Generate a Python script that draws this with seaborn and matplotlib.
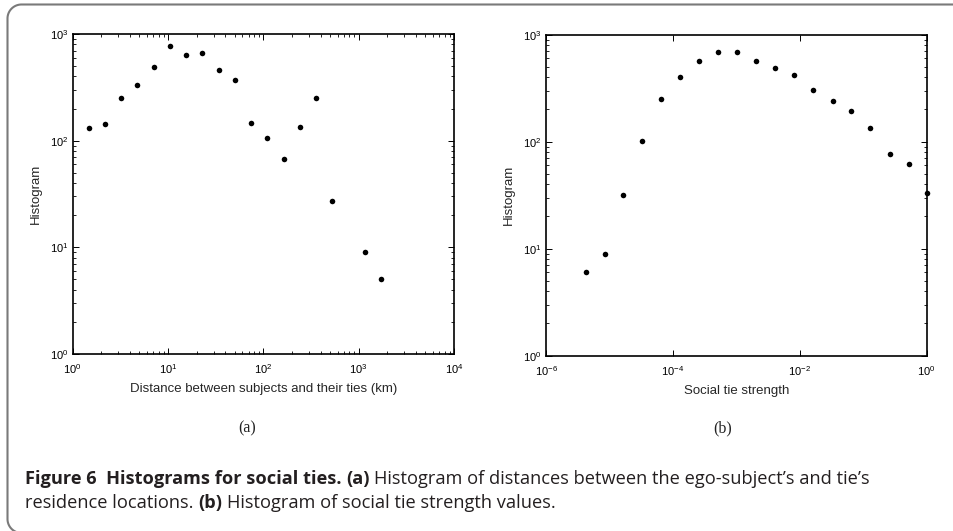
import matplotlib
matplotlib.use("Agg")
import matplotlib.pyplot as plt
from matplotlib.ticker import NullLocator, LogLocator
import numpy as np
import pandas as pd
import seaborn as sns

# (a) distance between subjects and their ties (km) vs. count
dist_km = [1.48, 2.18, 3.24, 4.76, 7.08, 10.5, 15.5, 22.9, 34.0, 50.5,
           74.3, 110, 164, 241, 357, 526, 1159, 1706]
dist_counts = [132, 144, 253, 335, 494, 766, 631, 663, 456, 370,
               147, 107, 68, 134, 250, 27, 9, 5]

# (b) social tie strength vs. count
tie_strength = [4.2e-6, 8.4e-6, 1.66e-5, 3.3e-5, 6.6e-5, 1.31e-4, 2.62e-4,
                5.2e-4, 1.04e-3, 2.07e-3, 4.14e-3, 8.2e-3, 1.64e-2, 3.28e-2,
                6.5e-2, 0.13, 0.26, 0.52, 1.0]
strength_counts = [6, 9, 32, 102, 252, 400, 571, 684, 689, 571, 485, 417,
                   304, 238, 192, 134, 77, 62, 33]

xlabels = ["Distance between subjects and their ties (km)", "Social tie strength"]
ylabel = "Histogram"
panel_tags = ["(a)", "(b)"]
caption_line1 = [("Figure 6  Histograms for social ties.", "bold"), ("(a)", "bold"),
                 ("Histogram of distances between the ego-subject\u2019s and tie\u2019s", "normal")]
caption_line2 = [("residence locations.", "normal"), ("(b)", "bold"),
                 ("Histogram of social tie strength values.", "normal")]

sns.set_style("white")
plt.rcParams["font.family"] = ["Liberation Sans", "DejaVu Sans"]
plt.rcParams["mathtext.default"] = "regular"

W, H = 954, 531
fig = plt.figure(figsize=(W / 100, H / 100), dpi=100)


def px_axes(left, top, right, bottom):
    return fig.add_axes([left / W, 1 - bottom / H, (right - left) / W, (bottom - top) / H])


ax_a = px_axes(72.7, 34, 454, 354)
ax_b = px_axes(546, 34.7, 926.7, 355.7)

df_a = pd.DataFrame({"x": dist_km, "count": dist_counts})
df_b = pd.DataFrame({"x": tie_strength, "count": strength_counts})

for ax, df in ((ax_a, df_a), (ax_b, df_b)):
    sns.scatterplot(data=df, x="x", y="count", ax=ax, color="black", s=16,
                    linewidth=0, clip_on=False, zorder=5)
    ax.set_xscale("log")
    ax.set_yscale("log")
    ax.set_ylim(1, 1000)
    for sp in ax.spines.values():
        sp.set_linewidth(1.2)
        sp.set_color("black")
        sp.set_visible(True)
    ax.tick_params(which="both", direction="in", top=True, right=True,
                   bottom=True, left=True, colors="black", labelsize=8)
    ax.tick_params(which="major", length=4, width=0.7)
    ax.tick_params(which="minor", length=2.2, width=0.6)
    ax.tick_params(axis="x", which="major", pad=6)
    ax.tick_params(axis="y", which="major", pad=3)
    ax.set_ylabel(ylabel, fontsize=9.5, labelpad=6)
    ax.yaxis.set_minor_locator(LogLocator(base=10, subs=np.arange(2, 10)))

ax_a.set_xlim(1, 1e4)
ax_a.xaxis.set_minor_locator(LogLocator(base=10, subs=np.arange(2, 10)))
ax_b.set_xlim(1e-6, 1)
ax_b.set_xticks([1e-6, 1e-4, 1e-2, 1])
ax_b.xaxis.set_minor_locator(NullLocator())

ax_a.set_xlabel(xlabels[0], fontsize=9.5, labelpad=5)
ax_b.set_xlabel(xlabels[1], fontsize=9.5, labelpad=5)

# Pixel-space overlay for the frame, panel tags and caption
ov = fig.add_axes([0, 0, 1, 1], zorder=-1)
ov.set_xlim(0, W)
ov.set_ylim(H, 0)
ov.axis("off")
ov.patch.set_alpha(0)

# Rounded frame: top edge runs off the right side, left edge has rounded corners
r = 14
fx, fy_top, fy_bot = 7.5, 4.5, 533
t_top = np.linspace(np.pi, 1.5 * np.pi, 30)
t_bot = np.linspace(0.5 * np.pi, np.pi, 30)[::-1]
top_arc_x = fx + r + r * np.cos(t_top)
top_arc_y = fy_top + r + r * np.sin(t_top)
bot_arc_x = fx + r + r * np.cos(t_bot)
bot_arc_y = fy_bot - r + r * np.sin(t_bot)
path_x = np.concatenate([[W + 20], top_arc_x[::-1], bot_arc_x, [W + 20]])
path_y = np.concatenate([[fy_top], top_arc_y[::-1], bot_arc_y, [fy_bot]])
ov.plot(path_x, path_y, color="#7a7a7a", linewidth=1.5, solid_capstyle="butt")

ov.text(247, 428, panel_tags[0], fontsize=11.5, family=["Liberation Serif"],
        ha="center", va="center", color="#222222")
ov.text(723, 428, panel_tags[1], fontsize=11.5, family=["Liberation Serif"],
        ha="center", va="center", color="#222222")

cap_family = ["Open Sans", "DejaVu Sans"]
renderer = fig.canvas.get_renderer()


def measure(txt, size, weight):
    t = ov.text(0, 0, txt, fontsize=size, fontweight=weight, family=cap_family)
    w = t.get_window_extent(renderer=renderer).width
    t.remove()
    return w


def space_width(size, weight):
    return measure("x x", size, weight) - measure("xx", size, weight)


def line_width(runs, size):
    total = 0
    for i, (txt, weight) in enumerate(runs):
        if i:
            total += space_width(size, weight)
        total += measure(txt, size, weight)
    return total


def draw_line(runs, x, y, size):
    for i, (txt, weight) in enumerate(runs):
        if i:
            x += space_width(size, weight)
        t = ov.text(x, y, txt, fontsize=size, fontweight=weight, family=cap_family,
                    ha="left", va="baseline", color="#231f20")
        x += t.get_window_extent(renderer=renderer).width


base = 12
cap_size = base * 846 / line_width(caption_line1, base)
draw_line(caption_line1, 25, 484, cap_size)
draw_line(caption_line2, 25, 508, cap_size)

fig.savefig("out.png", dpi=100)
